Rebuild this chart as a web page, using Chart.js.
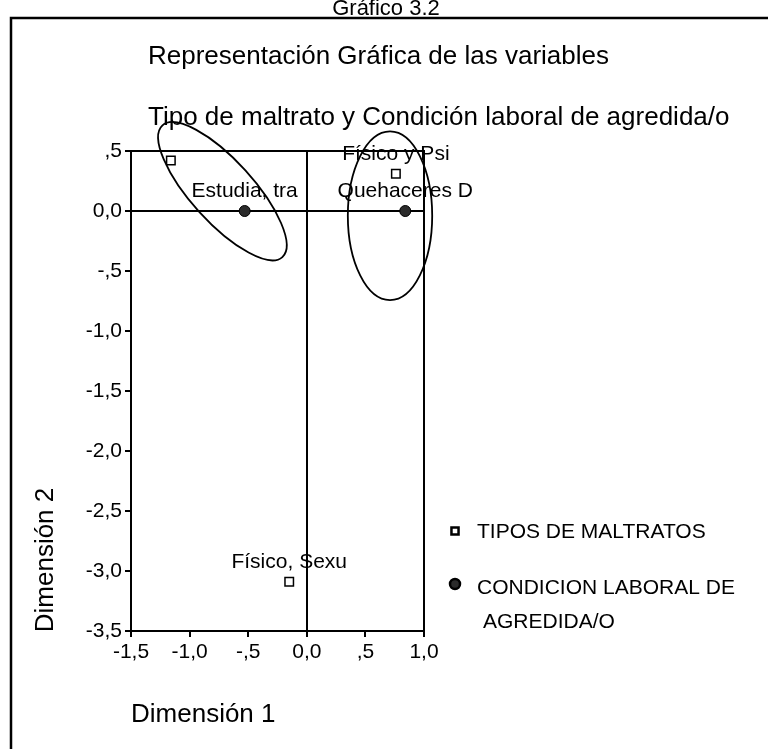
<!DOCTYPE html>
<html>
<head>
<meta charset="utf-8">
<script src="https://cdn.jsdelivr.net/npm/chart.js@4.4.0/dist/chart.umd.min.js"></script>
<style>
  html, body { margin: 0; padding: 0; background: #fff; }
  canvas { display: block; }
</style>
</head>
<body>
<canvas id="chart" width="768" height="749"></canvas>
<script>
/* ---------- data ---------- */
const TIPOS_X = [-1.16, 0.76, -0.15];
const TIPOS_Y = [0.42, 0.31, -3.09];
const TIPOS_LABELS = ['', 'Físico y Psi', 'Físico, Sexu'];

const COND_X = [-0.53, 0.84];
const COND_Y = [0.0, 0.0];
const COND_LABELS = ['Estudia, tra', 'Quehaceres D'];

const X_TICKS = [-1.5, -1.0, -0.5, 0.0, 0.5, 1.0];
const Y_TICKS = [0.5, 0.0, -0.5, -1.0, -1.5, -2.0, -2.5, -3.0, -3.5];

const SERIES_NAMES = ['TIPOS DE MALTRATOS', 'CONDICION LABORAL DE'];

/* ---------- style ---------- */
const FONT = "'Liberation Sans', Arial, sans-serif";
const SMALL = 21;
const BIG = 26;

// grouping ellipses: centre in data units, radii in data units, rotation in degrees
const ELLIPSES = [
  { cx: -0.72, cy: 0.165, rx: 0.76, ry: 0.265, rot: 47.7 },
  { cx: 0.71, cy: -0.04, rx: 0.36, ry: 0.72, rot: 0 }
];

function fmt(v) {
  if (Math.abs(v) < 1e-9) return '0,0';
  let s = Math.abs(v).toFixed(1).replace('.', ',');
  if (s.startsWith('0,')) s = s.slice(1);
  return (v < 0 ? '-' : '') + s;
}

function toPoints(xs, ys) {
  return xs.map((x, i) => ({ x, y: ys[i] }));
}

const decor = {
  id: 'decor',
  beforeDraw(chart) {
    const ctx = chart.ctx;
    ctx.save();
    ctx.fillStyle = '#fff';
    ctx.fillRect(0, 0, chart.width, chart.height);
    ctx.restore();
  },
  afterDatasetsDraw(chart) {
    const ctx = chart.ctx;
    const ca = chart.chartArea;
    const xs = chart.scales.x, ys = chart.scales.y;
    const pxUnit = xs.getPixelForValue(1) - xs.getPixelForValue(0);
    ctx.save();

    // frame top + right
    ctx.strokeStyle = '#000';
    ctx.lineWidth = 2;
    ctx.beginPath();
    ctx.moveTo(ca.left, ca.top);
    ctx.lineTo(ca.right, ca.top);
    ctx.lineTo(ca.right, ca.bottom);
    ctx.stroke();

    // ellipses
    ctx.lineWidth = 1.8;
    ELLIPSES.forEach(e => {
      ctx.beginPath();
      ctx.ellipse(xs.getPixelForValue(e.cx), ys.getPixelForValue(e.cy),
        e.rx * pxUnit, e.ry * pxUnit, e.rot * Math.PI / 180, 0, 2 * Math.PI);
      ctx.stroke();
    });

    // point labels
    ctx.fillStyle = '#000';
    ctx.font = SMALL + 'px ' + FONT;
    ctx.textAlign = 'center';
    ctx.textBaseline = 'alphabetic';
    [TIPOS_LABELS, COND_LABELS].forEach((labels, di) => {
      const meta = chart.getDatasetMeta(di);
      meta.data.forEach((el, i) => {
        if (labels[i]) ctx.fillText(labels[i], el.x, el.y - 14);
      });
    });
    ctx.restore();
  },
  afterDraw(chart) {
    const ctx = chart.ctx;
    ctx.save();
    ctx.fillStyle = '#000';
    ctx.strokeStyle = '#000';

    // outer box (runs off the right and bottom edges)
    ctx.lineWidth = 2.5;
    ctx.strokeRect(11, 18, 800, 800);

    ctx.textBaseline = 'alphabetic';
    ctx.textAlign = 'center';
    ctx.font = '22px ' + FONT;
    ctx.fillText('Gráfico 3.2', 386, 15);

    ctx.textAlign = 'left';
    ctx.font = BIG + 'px ' + FONT;
    ctx.fillText('Representación Gráfica de las variables', 148, 64);
    ctx.fillText('Tipo de maltrato y Condición laboral de agredida/o', 148, 125);
    ctx.fillText('Dimensión 1', 131, 722);

    ctx.save();
    ctx.translate(53, 560);
    ctx.rotate(-Math.PI / 2);
    ctx.textAlign = 'center';
    ctx.fillText('Dimensión 2', 0, 0);
    ctx.restore();

    // legend
    ctx.font = SMALL + 'px ' + FONT;
    ctx.textAlign = 'left';
    const ds = chart.data.datasets;
    ctx.fillStyle = ds[0].backgroundColor;
    ctx.strokeStyle = ds[0].borderColor;
    Chart.helpers.drawPoint(ctx, {
      pointStyle: ds[0].pointStyle, radius: 5, borderWidth: 1.5
    }, 455, 531);

    ctx.fillStyle = ds[1].backgroundColor;
    ctx.strokeStyle = ds[1].borderColor;
    Chart.helpers.drawPoint(ctx, {
      pointStyle: ds[1].pointStyle, radius: 5, borderWidth: 1
    }, 455, 584);

    ctx.fillStyle = '#000';
    ctx.fillText(SERIES_NAMES[0], 477, 538);
    ctx.fillText(SERIES_NAMES[1], 477, 594);
    ctx.fillText('AGREDIDA/O', 483, 628);
    ctx.restore();
  }
};

new Chart(document.getElementById('chart'), {
  type: 'scatter',
  data: {
    datasets: [
      {
        label: SERIES_NAMES[0],
        data: toPoints(TIPOS_X, TIPOS_Y),
        pointStyle: 'rect',
        pointRadius: 6,
        borderWidth: 1.5,
        borderColor: '#000',
        backgroundColor: '#fff'
      },
      {
        label: SERIES_NAMES[1],
        data: toPoints(COND_X, COND_Y),
        pointStyle: 'circle',
        pointRadius: 5.5,
        borderWidth: 1,
        borderColor: '#000',
        backgroundColor: '#2b2b2b'
      }
    ]
  },
  options: {
    responsive: false,
    animation: false,
    layout: { padding: { left: 0, top: 151, right: 344, bottom: 0 } },
    plugins: {
      legend: { display: false },
      title: { display: false },
      tooltip: { enabled: false }
    },
    scales: {
      x: {
        type: 'linear',
        min: -1.5,
        max: 1.0,
        afterBuildTicks: s => { s.ticks = X_TICKS.map(v => ({ value: v })); },
        afterFit: s => { s.height = 118; },
        border: { display: true, color: '#000', width: 2 },
        grid: {
          color: c => (c.tick && c.tick.value === 0) ? '#000' : 'rgba(0,0,0,0)',
          lineWidth: 2,
          tickColor: '#000',
          tickLength: 6,
          drawOnChartArea: true
        },
        ticks: {
          color: '#000',
          padding: 3,
          maxRotation: 0,
          font: { family: FONT, size: SMALL },
          callback: v => fmt(v)
        }
      },
      y: {
        type: 'linear',
        min: -3.5,
        max: 0.5,
        afterBuildTicks: s => { s.ticks = Y_TICKS.map(v => ({ value: v })); },
        afterFit: s => { s.width = 131; },
        border: { display: true, color: '#000', width: 2 },
        grid: {
          color: c => (c.tick && c.tick.value === 0) ? '#000' : 'rgba(0,0,0,0)',
          lineWidth: 2,
          tickColor: '#000',
          tickLength: 6,
          drawOnChartArea: true
        },
        ticks: {
          color: '#000',
          padding: 3,
          font: { family: FONT, size: SMALL },
          callback: v => fmt(v)
        }
      }
    }
  },
  plugins: [decor]
});
</script>
</body>
</html>
